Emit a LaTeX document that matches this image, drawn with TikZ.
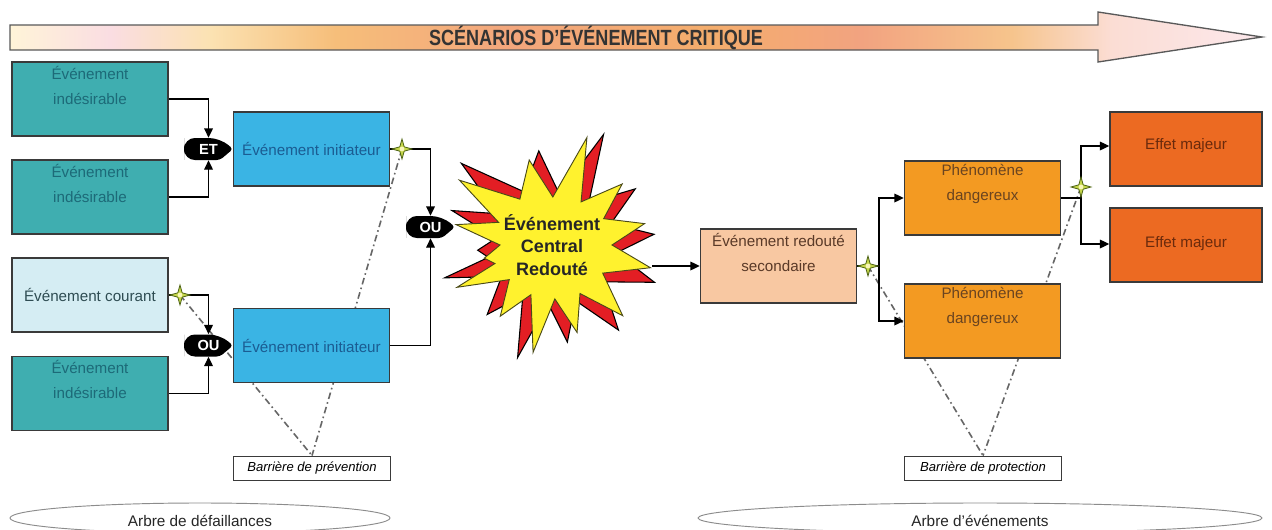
\documentclass[tikz,border=0pt]{standalone}
\usepackage{fontspec}
\setmainfont{Liberation Sans}
\usepackage{graphicx}
\usetikzlibrary{arrows.meta,calc}

% colours of the title arrow gradient
\definecolor{sc0}{HTML}{FFF4D8}
\definecolor{sc1}{HTML}{FADDE2}
\definecolor{sc2}{HTML}{FBE2B2}
\definecolor{sc3}{HTML}{F6BE7A}
\definecolor{sc4}{HTML}{F3A67C}
\definecolor{sc5}{HTML}{F4AD6C}
\definecolor{sc6}{HTML}{F2A380}
\definecolor{sc7}{HTML}{F6C48C}
\definecolor{sc8}{HTML}{FBDDD4}
\definecolor{sc9}{HTML}{FCE8EC}
\pgfdeclarehorizontalshading{scenario}{100bp}{color(0bp)=(sc0); color(25bp)=(sc0); color(29bp)=(sc1); color(33bp)=(sc2); color(38bp)=(sc3); color(45bp)=(sc4); color(53bp)=(sc5); color(59bp)=(sc6); color(65bp)=(sc7); color(69bp)=(sc8); color(75bp)=(sc9); color(100bp)=(sc9)}

% box colours
\definecolor{tealbox}{HTML}{3FAEB0}
\definecolor{tealtxt}{HTML}{1D6A78}
\definecolor{lightbox}{HTML}{D5EDF3}
\definecolor{lighttxt}{HTML}{2E4C52}
\definecolor{skybox}{HTML}{3AB4E4}
\definecolor{skytxt}{HTML}{1B5C92}
\definecolor{peachbox}{HTML}{F8C8A2}
\definecolor{peachtxt}{HTML}{5A3A28}
\definecolor{orangebox}{HTML}{F39A22}
\definecolor{orangetxt}{HTML}{6A4420}
\definecolor{redbox}{HTML}{EC6A22}
\definecolor{redtxt}{HTML}{6A2A0C}
\definecolor{boxline}{HTML}{3A3A3A}
\definecolor{barrierline}{HTML}{666666}
\definecolor{burstred}{HTML}{E31E24}
\definecolor{burstyellow}{HTML}{FFF22E}
\definecolor{burstline}{HTML}{4A4A18}
\definecolor{sparkfill}{HTML}{C4D648}
\definecolor{sparkline}{HTML}{4F6418}
\definecolor{sparkcore}{HTML}{F8F6B8}

% outline of the central burst (polar, relative to its centre)
\newcommand\burstoutline{(-72:113) -- (-56:52) -- (-41:93) -- (-27:58) -- (-13:95) -- (0:60) -- (13:101) -- (29:58) -- (45:100) -- (60:56) -- (74:91) -- (87:54) -- (100:109) -- (113:54) -- (126:88) -- (141:55) -- (156:104) -- (162:60) -- (169:69) -- (180:52) -- (192:98) -- (203:58) -- (215:113) -- (235:56) -- (255:88) -- (271:48) -- cycle}

% black logic gate body: round on the left, pointed on the right
\newcommand\gatebody[1]{%
  \fill[black] ($(#1)+(-24,0)$) [rounded corners=8.2pt] -- ($(#1)+(-24,-11)$) -- ($(#1)+(12,-11)$)
    [rounded corners=2.5pt] -- ($(#1)+(25,0)$) -- ($(#1)+(12,11)$)
    [rounded corners=8.2pt] -- ($(#1)+(-24,11)$) -- cycle;}

\begin{document}
\begin{tikzpicture}[x=0.75pt,y=-0.75pt,
  box/.style={draw=boxline, line width=1.1pt, inner sep=0pt, minimum width=117pt, minimum height=55.5pt},
  boxtxt/.style={align=center, inner sep=0pt, font=\fontsize{11.4}{18.5}\selectfont},
  gate/.style={rectangle, text=white, inner sep=0pt, minimum width=36.75pt, minimum height=16.5pt, xshift=0.4pt, font=\bfseries\fontsize{11}{13}\selectfont},
  link/.style={draw=black, line width=0.9pt, -{Triangle[length=7pt,width=6.5pt]}},
  plainlink/.style={draw=black, line width=0.9pt},
  barrier/.style={draw=barrierline, line width=1.2pt, dash pattern=on 5pt off 2.5pt on 1.2pt off 2.5pt},
  barrierbox/.style={draw=boxline, line width=0.9pt, fill=white, minimum width=118pt, minimum height=18.5pt, inner sep=0pt, font=\itshape\fontsize{9.8}{11}\selectfont},
  treeline/.style={draw=black!45, line width=0.7pt},
  treetxt/.style={inner sep=0pt, font=\fontsize{11.5}{13}\selectfont, text=black!85},
  spark/.pic={
    \filldraw[fill=sparkfill, draw=sparkline, line width=0.6pt]
      (10,0) -- (2.2,-2.2) -- (0,-10) -- (-2.2,-2.2) -- (-10,0) -- (-2.2,2.2) -- (0,10) -- (2.2,2.2) -- cycle;
    \fill[sparkcore] (0,0) circle (2.4);
  }
]
\useasboundingbox (0,0) rectangle (1272,529);
\fill[white] (0,0) rectangle (1272,529);

% title arrow
\shadedraw[shading=scenario, draw=black!65, line width=1pt]
  (10,25) -- (1098,25) -- (1098,12) -- (1262,37) -- (1098,62) -- (1098,50) -- (10,50) -- cycle;
\node[inner sep=0pt, text=black!80, font=\bfseries\fontsize{16.5}{18}\selectfont] (title) at (596,38)
  {\scalebox{0.82}[1]{SCÉNARIOS D'ÉVÉNEMENT CRITIQUE}};

% tree labels
\begin{scope}
  \clip (0,0) rectangle (1272,529);
  \draw[treeline] (200,518) ellipse [x radius=190, y radius=15];
  \draw[treeline] (980,518) ellipse [x radius=282, y radius=15];
\end{scope}
\node[treetxt] (fault) at (200,521) {Arbre de défaillances};
\node[treetxt] (events) at (980,521) {Arbre d'événements};

% barriers
\node[barrierbox] (prev) at (312,468.5) {Barrière de prévention};
\node[barrierbox] (prot) at (983,468.5) {Barrière de protection};

\coordinate (m1) at (180,295);
\coordinate (m2) at (402,149);
\coordinate (m3) at (868,266);
\coordinate (m4) at (1081,187);

\draw[barrier] (m1) -- (prev.north);
\draw[barrier] (m2) -- (prev.north);
\draw[barrier] (m3) -- (prot.north);
\draw[barrier] (m4) -- (prot.north);

% fault tree boxes
\node[box, fill=tealbox] (a1) at (90,99) {};
\node[box, fill=tealbox] (a2) at (90,197) {};
\node[box, fill=lightbox] (a3) at (90,295) {};
\node[box, fill=tealbox] (a4) at (90,393.5) {};
\node[boxtxt, text=tealtxt] (a1t) at ($(a1.north)+(0,24)$) {Événement\\indésirable};
\node[boxtxt, text=tealtxt] (a2t) at ($(a2.north)+(0,24)$) {Événement\\indésirable};
\node[boxtxt, text=lighttxt] (a3t) at (a3.center) {Événement courant};
\node[boxtxt, text=tealtxt] (a4t) at ($(a4.north)+(0,24)$) {Événement\\indésirable};

\node[box, fill=skybox] (i1) at (311.5,149) {};
\node[box, fill=skybox] (i2) at (311.5,345.5) {};
\node[boxtxt, text=skytxt] (i1t) at (i1.center) {Événement initiateur};
\node[boxtxt, text=skytxt] (i2t) at (i2.center) {Événement initiateur};

% logic gates
\coordinate (etc) at (208,149);
\coordinate (ou1c) at (208,345.5);
\coordinate (ou2c) at (430,227);
\gatebody{etc}
\gatebody{ou1c}
\gatebody{ou2c}
\node[gate] (et) at (etc) {ET};
\node[gate] (ou1) at (ou1c) {OU};
\node[gate] (ou2) at (ou2c) {OU};

\draw[link] (a1.east) -| (et.north);
\draw[link] (a2.east) -| (et.south);
\draw[link] (a3.east) -| (ou1.north);
\draw[link] (a4.east) -| (ou1.south);
\draw[link] (i1.east) -| (ou2.north);
\draw[link] (i2.east) -| (ou2.south);

% central burst
\begin{scope}[shift={(552,245)}]
  \begin{scope}[rotate=-7, scale=1.08]
    \filldraw[fill=burstred, draw=black, line width=0.8pt] \burstoutline;
  \end{scope}
  \filldraw[fill=burstyellow, draw=burstline, line width=0.7pt] \burstoutline;
\end{scope}
\node[align=center, inner sep=0pt, text=black!85, font=\bfseries\fontsize{13.5}{17}\selectfont] (burst) at (552,245)
  {Événement\\Central\\Redouté};
\coordinate (bursttip) at (652,266);

% event tree boxes
\node[box, fill=peachbox] (r) at (778.5,266) {};
\node[boxtxt, text=peachtxt] (rt) at ($(r.north)+(0,24)$) {Événement redouté\\secondaire};
\node[box, fill=orangebox] (p1) at (982.5,198) {};
\node[box, fill=orangebox] (p2) at (982.5,321) {};
\node[boxtxt, text=orangetxt] (p1t) at ($(p1.north)+(0,24)$) {Phénomène\\dangereux};
\node[boxtxt, text=orangetxt] (p2t) at ($(p2.north)+(0,24)$) {Phénomène\\dangereux};
\node[box, fill=redbox, minimum width=114pt] (e1) at (1186,149) {};
\node[box, fill=redbox, minimum width=114pt] (e2) at (1186,245) {};
\node[boxtxt, text=redtxt] (e1t) at ($(e1.center)+(0,-3)$) {Effet majeur};
\node[boxtxt, text=redtxt] (e2t) at ($(e2.center)+(0,-1)$) {Effet majeur};

\draw[link] (bursttip) -- (r.west);
\coordinate (rfork) at (879,266);
\draw[plainlink] (r.east) -- (rfork);
\draw[link] (rfork) |- (p1.west);
\draw[link] (rfork) |- (p2.west);
\coordinate (pfork) at (1081,198);
\draw[plainlink] (p1.east) -- (pfork);
\draw[link] (pfork) |- (e1t.west -| e1.west);
\draw[link] (pfork) |- (e2t.west -| e2.west);

% barrier markers
\pic at (m1) {spark};
\pic at (m2) {spark};
\pic at (m3) {spark};
\pic at (m4) {spark};
\end{tikzpicture}
\end{document}
